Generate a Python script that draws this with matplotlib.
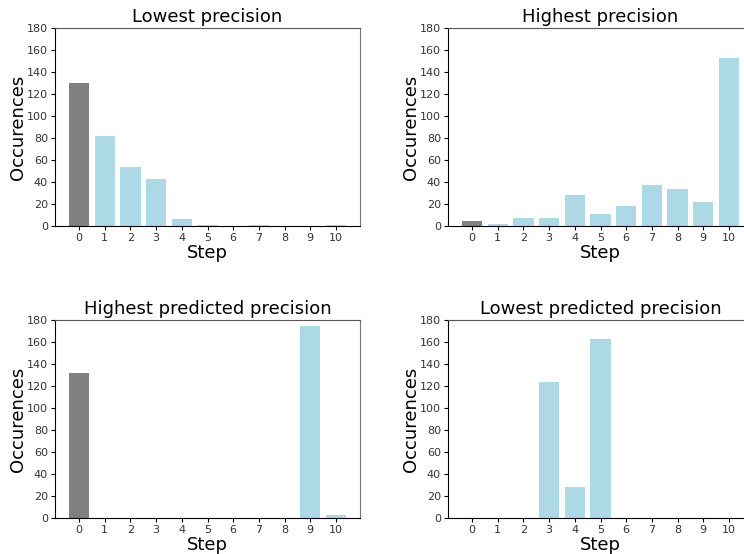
import numpy as np
import matplotlib
matplotlib.use("Agg")
import matplotlib.pyplot as plt

steps = list(range(11))

# occurrences of each step per selection strategy
lowest_precision = [130, 82, 54, 43, 6, 1, 0, 1, 0, 0, 1]
highest_precision = [5, 2, 7, 7, 28, 11, 18, 37, 34, 22, 153]
highest_predicted = [132, 0, 0, 0, 0, 0, 0, 0, 0, 175, 3]
lowest_predicted = [0, 0, 0, 124, 28, 163, 0, 0, 0, 0, 0]

titles = ["Lowest precision", "Highest precision",
          "Highest predicted precision", "Lowest predicted precision"]
series = [lowest_precision, highest_precision, highest_predicted, lowest_predicted]

# step 0 is drawn in grey, the rest light blue
colors = ["grey"] + ["lightblue"] * 10

W, H = 744, 554
fig = plt.figure(figsize=(W / 100, H / 100), dpi=100)

# axes boxes in pixels: left, top, width, height
boxes = [(55, 28, 305, 198), (448, 28, 305, 198),
         (55, 320, 305, 198), (448, 320, 305, 198)]

for (x0, y0, w, h), title, vals in zip(boxes, titles, series):
    ax = fig.add_axes([x0 / W, 1 - (y0 + h) / H, w / W, h / H])
    ax.bar(steps, vals, width=0.8, color=colors)
    ax.set_ylim(0, 180)
    ax.set_yticks(range(0, 181, 20))
    ax.set_xticks(steps)
    ax.tick_params(labelsize=8, labelcolor="#333333", length=3, pad=2)
    ax.set_title(title, fontsize=13, pad=4)
    ax.set_xlabel("Step", fontsize=13, labelpad=1)
    ax.set_ylabel("Occurences", fontsize=13, labelpad=0)
    ax.spines["top"].set_color("#555555")
    ax.spines["right"].set_color("#777777")

fig.savefig("out.png", dpi=100)
